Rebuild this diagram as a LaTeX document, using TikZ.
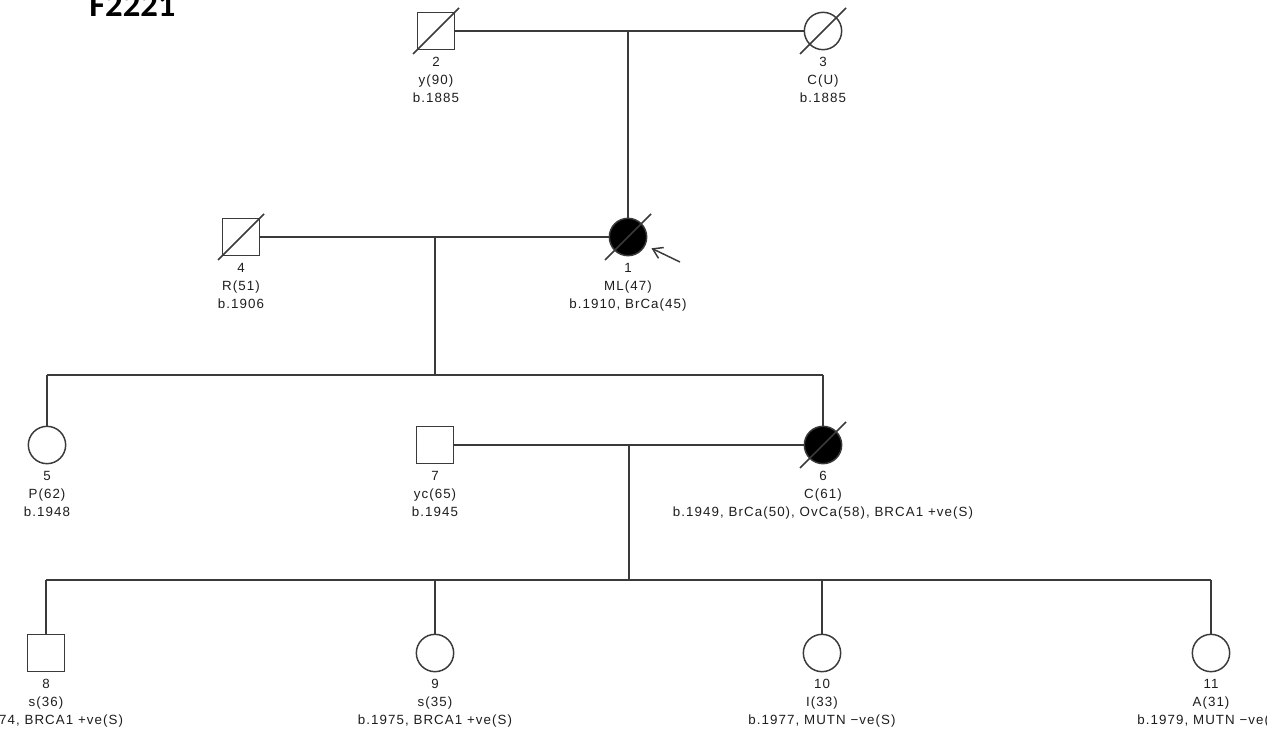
\documentclass[tikz,border=0pt]{standalone}
\usepackage{fontspec}
\usetikzlibrary{arrows.meta}
\newfontfamily\lab[LetterSpace=8]{Liberation Sans}
\newfontfamily\ttl{Carlito}
\definecolor{ln}{HTML}{3A3A3A}
\definecolor{tx}{HTML}{1E1E1E}
\begin{document}
\begin{tikzpicture}[x=0.75pt,y=-0.75pt,
  person/.style={draw=ln,line width=1.1pt,minimum size=28pt,inner sep=0pt},
  male/.style={person,rectangle},
  female/.style={person,circle},
  affected/.style={fill=black},
  conn/.style={draw=ln,line width=1.1pt},
  slash/.style={draw=ln,line width=1.1pt},
  lbl/.style={anchor=north,inner sep=0pt,align=center,text=tx,
    font={\lab\fontsize{10pt}{13.4pt}\selectfont}},
  proband/.style={draw=ln,line width=1.1pt,-{Straight Barb[length=7pt,width=9pt]}}]
\useasboundingbox (0,0) rectangle (1267,738);
\fill[white] (0,0) rectangle (1267,738);
% title
\node[anchor=base west,inner sep=0pt,font={\ttl\bfseries\fontsize{26pt}{30pt}\selectfont},text=black] (title) at (89,17) {F2221};
% generation I
\node[male] (n2) at (436,31) {};
\node[female] (n3) at (823,31) {};
% generation II
\node[male] (n4) at (241,237) {};
\node[female,affected] (n1) at (628,237) {};
% generation III
\node[female] (n5) at (47,445) {};
\node[male] (n7) at (435,445) {};
\node[female,affected] (n6) at (823,445) {};
% generation IV
\node[male] (n8) at (46,653) {};
\node[female] (n9) at (435,653) {};
\node[female] (n10) at (822,653) {};
\node[female] (n11) at (1211,653) {};
% slashes (deceased)
\foreach \n in {n2,n3,n4,n1,n6}{
  \draw[slash] ([shift={(-23,23)}]\n.center) -- ([shift={(23,-23)}]\n.center);
}
% labels
\node[lbl] (l2) at ([yshift=-26*0.75pt]n2.center) {2\\y(90)\\b.1885};
\node[lbl] (l3) at ([yshift=-26*0.75pt]n3.center) {3\\C(U)\\b.1885};
\node[lbl] (l4) at ([yshift=-26*0.75pt]n4.center) {4\\R(51)\\b.1906};
\node[lbl] (l1) at ([yshift=-26*0.75pt]n1.center) {1\\ML(47)\\b.1910, BrCa(45)};
\node[lbl] (l5) at ([yshift=-26*0.75pt]n5.center) {5\\P(62)\\b.1948};
\node[lbl] (l7) at ([yshift=-26*0.75pt]n7.center) {7\\yc(65)\\b.1945};
\node[lbl] (l6) at ([yshift=-26*0.75pt]n6.center) {6\\C(61)\\b.1949, BrCa(50), OvCa(58), BRCA1 +ve(S)};
\node[lbl] (l8) at ([yshift=-26*0.75pt]n8.center) {8\\s(36)\\b.1974, BRCA1 +ve(S)};
\node[lbl] (l9) at ([yshift=-26*0.75pt]n9.center) {9\\s(35)\\b.1975, BRCA1 +ve(S)};
\node[lbl] (l10) at ([yshift=-26*0.75pt]n10.center) {10\\I(33)\\b.1977, MUTN {\char"2212}ve(S)};
\node[lbl] (l11) at ([yshift=-26*0.75pt]n11.center) {11\\A(31)\\b.1979, MUTN {\char"2212}ve(S)};
% coordinates for connectors
\coordinate (m23) at (628,31);
\coordinate (m41) at (435,237);
\coordinate (s1L) at (47,375);
\coordinate (s1M) at (435,375);
\coordinate (s1R) at (823,375);
\coordinate (m76) at (629,445);
\coordinate (s2L) at (46,580);
\coordinate (s2M) at (629,580);
\coordinate (s2R) at (1211,580);
\coordinate (s2a) at (435,580);
\coordinate (s2b) at (822,580);
\coordinate (arr) at (680,262);
% marriages and descent
\draw[conn] (n2) -- (n3);
\draw[conn] (m23) -- (n1.north);
\draw[conn] (n4) -- (n1);
\draw[conn] (m41) -- (s1M);
\draw[conn] (s1L) -- (s1R);
\draw[conn] (s1L) -- (n5.north);
\draw[conn] (s1R) -- (n6.north);
\draw[conn] (n7) -- (n6);
\draw[conn] (m76) -- (s2M);
\draw[conn] (s2L) -- (s2R);
\draw[conn] (s2L) -- (n8.north);
\draw[conn] (s2a) -- (n9.north);
\draw[conn] (s2b) -- (n10.north);
\draw[conn] (s2R) -- (n11.north);
% proband arrow
\draw[proband,shorten >=5pt] (arr) -- (n1);
\end{tikzpicture}
\end{document}
